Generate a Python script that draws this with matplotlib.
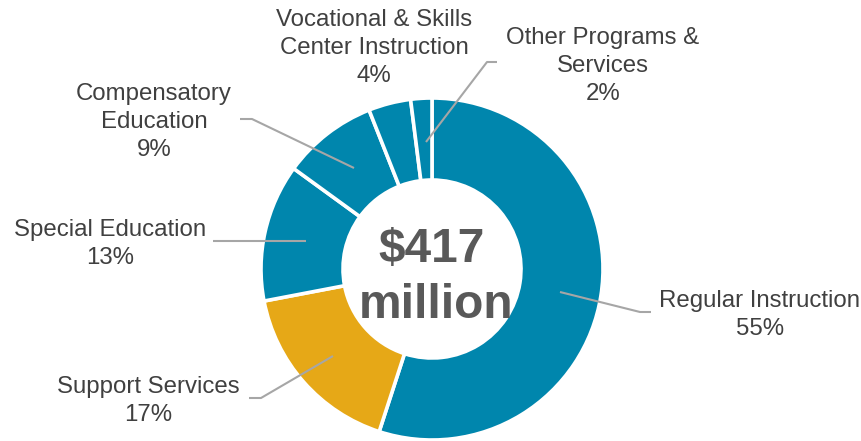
import matplotlib
matplotlib.use("Agg")
import matplotlib.pyplot as plt

categories = ["Regular Instruction", "Support Services", "Special Education",
              "Compensatory\nEducation", "Vocational & Skills\nCenter Instruction",
              "Other Programs &\nServices"]
shares = [55, 17, 13, 9, 4, 2]
total_label = ["$417", "million"]

BLUE = "#0086AD"
GOLD = "#E6A817"
colors = [BLUE, GOLD, BLUE, BLUE, BLUE, BLUE]
TEXT = "#404040"
LINE = "#A6A6A6"

W, H = 862, 441
fig = plt.figure(figsize=(W / 100, H / 100), dpi=100)
ax = fig.add_axes([0, 0, 1, 1])
ax.set_xlim(0, W)
ax.set_ylim(0, H)
ax.set_aspect("equal")
ax.axis("off")

def Y(y):
    return H - y

cx, cy, R, r_in = 432, 269, 171, 89
ax.pie(shares, colors=colors, startangle=90, counterclock=False,
       center=(cx, Y(cy)), radius=R, frame=True,
       wedgeprops=dict(width=R - r_in, edgecolor="white", linewidth=2.6))
ax.set_xlim(0, W)
ax.set_ylim(0, H)
ax.axis("off")

font = dict(family=["Liberation Sans", "DejaVu Sans"], color=TEXT, fontsize=17.3)

# category labels with percentages
label_pos = [(760, 315), (148, 401), (110, 244), (154, 122), (374, 48), (603, 66)]
for name, val, (lx, ly) in zip(categories, shares, label_pos):
    ax.text(lx, Y(ly), f"{name}\n{val}%", ha="center", va="center",
            linespacing=1.36, **font)

# leader lines
leaders = [
    [(560, 292), (640, 312), (651, 312)],
    [(333, 356), (261, 398), (249, 398)],
    [(306, 241), (213, 241)],
    [(354, 168), (252, 119), (240, 119)],
    [(426, 142), (487, 62), (497, 62)],
]
for pts in leaders:
    xs = [p[0] for p in pts]
    ys = [Y(p[1]) for p in pts]
    ax.plot(xs, ys, color=LINE, linewidth=1.5, solid_capstyle="butt")

# total in the middle of the ring
cfont = dict(family=["Liberation Sans", "DejaVu Sans"], color="#595959",
             fontsize=34.5, fontweight="bold", ha="center", va="baseline")
ax.text(432, Y(262), total_label[0], **cfont)
ax.text(436, Y(318), total_label[1], **cfont)

fig.savefig("out.png", dpi=100)
